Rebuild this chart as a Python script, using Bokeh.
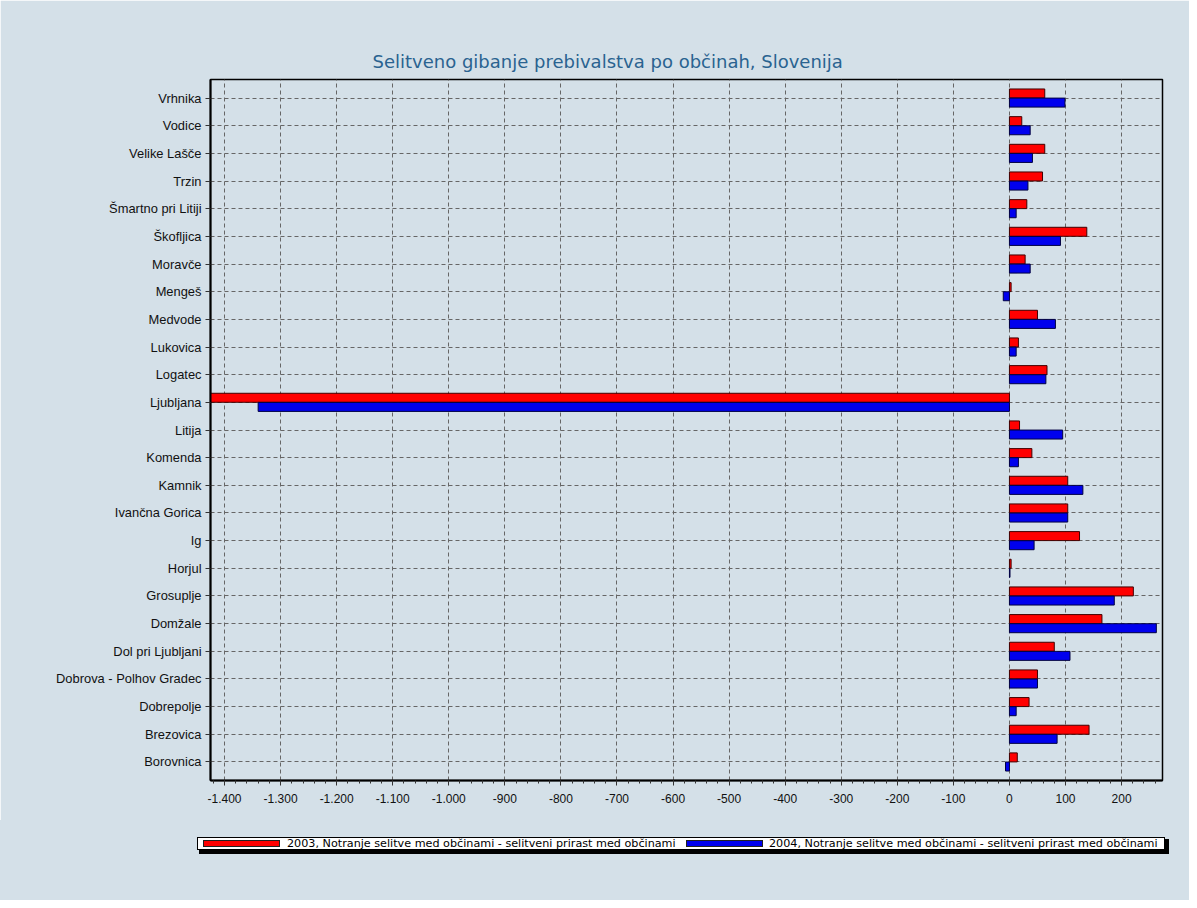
from bokeh.plotting import figure
from bokeh.models import ColumnDataSource, FactorRange, Range1d, FixedTicker, Div
from bokeh.layouts import column
from bokeh.transform import dodge
from bokeh.embed import file_html
from bokeh.resources import INLINE

# ---- data (bottom to top) ----
municipalities = [
    "Borovnica", "Brezovica", "Dobrepolje", "Dobrova - Polhov Gradec",
    "Dol pri Ljubljani", "Domžale", "Grosuplje", "Horjul", "Ig",
    "Ivančna Gorica", "Kamnik", "Komenda", "Litija", "Ljubljana", "Logatec",
    "Lukovica", "Medvode", "Mengeš", "Moravče", "Škofljica",
    "Šmartno pri Litiji", "Trzin", "Velike Lašče", "Vodice", "Vrhnika",
]
values_2003 = [14, 142, 35, 50, 80, 165, 221, 3, 125, 104, 104, 40, 18,
               -1425, 67, 16, 50, 3, 28, 138, 31, 59, 63, 22, 63]
values_2004 = [-7, 85, 12, 50, 108, 262, 187, 1, 44, 104, 131, 16, 95,
               -1340, 65, 12, 82, -11, 37, 91, 12, 33, 41, 37, 99]
series_labels = [
    "2003, Notranje selitve med občinami - selitveni prirast med občinami",
    "2004, Notranje selitve med občinami - selitveni prirast med občinami",
]
series_colors = ["#ff0000", "#0000ee"]
x_ticks = [-1400, -1300, -1200, -1100, -1000, -900, -800, -700, -600, -500,
           -400, -300, -200, -100, 0, 100, 200]
x_tick_labels = ["-1.400", "-1.300", "-1.200", "-1.100", "-1.000", "-900",
                 "-800", "-700", "-600", "-500", "-400", "-300", "-200",
                 "-100", "0", "100", "200"]
title_text = "Selitveno gibanje prebivalstva po občinah, Slovenija"

BG = "#d4e0e8"

src = ColumnDataSource(dict(cat=municipalities, v03=values_2003, v04=values_2004))

yr = FactorRange(factors=municipalities, range_padding=0.17,
                 range_padding_units="absolute")
p = figure(frame_width=952, frame_height=701, y_range=yr,
           x_range=Range1d(-1425, 273),
           output_backend="svg", toolbar_location=None,
           min_border_left=210, min_border_right=27, min_border_top=79,
           min_border_bottom=40)
p.background_fill_color = BG
p.border_fill_color = BG
p.outline_line_color = "black"
p.outline_line_width = 1.5

r1 = p.hbar(y=dodge("cat", 0.165, range=yr), right="v03", left=0, height=0.325,
            source=src, fill_color=series_colors[0], line_color="#400000",
            line_width=1)
r2 = p.hbar(y=dodge("cat", -0.165, range=yr), right="v04", left=0, height=0.325,
            source=src, fill_color=series_colors[1], line_color="#000040",
            line_width=1)

# axes
p.xaxis.ticker = FixedTicker(ticks=x_ticks,
                             minor_ticks=list(range(-1420, 280, 20)))
p.xaxis.major_label_overrides = {t: l for t, l in zip(x_ticks, x_tick_labels)}
for ax in (p.xaxis[0], p.yaxis[0]):
    ax.axis_line_color = "black"
    ax.axis_line_width = 2
    ax.major_tick_line_color = "#333333"
    ax.minor_tick_line_color = "#333333"
    ax.major_label_text_font = "Liberation Sans"
    ax.major_label_text_color = "#111111"
p.xaxis.major_label_text_font_size = "12px"
p.yaxis.major_label_text_font_size = "12.9px"
p.xaxis.major_tick_out = 5
p.xaxis.major_tick_in = 0
p.xaxis.minor_tick_out = 3
p.xaxis.minor_tick_in = 0
p.xaxis.major_label_standoff = 8
p.yaxis.major_tick_out = 5
p.yaxis.major_tick_in = 0
p.yaxis.major_label_standoff = 4

# grids
for g in (p.xgrid, p.ygrid):
    g.grid_line_color = "#666666"
    g.grid_line_dash = "4 3"
    g.grid_line_width = 1

# title
p.title.text = title_text
p.title.align = "left"
p.title.offset = 162
p.title.text_font = "DejaVu Sans"
p.title.text_font_size = "18px"
p.title.text_font_style = "normal"
p.title.text_color = "#2a6390"
p.title.standoff = 16

# ---- legend strip (HTML, below the chart) ----
sw_left = [203, 686]
txt_left = [287, 769]
parts = [
    f'<div style="position:relative;width:1189px;height:80px;background:{BG};">',
    '<div style="position:absolute;left:199px;top:19px;width:970px;height:15px;'
    'background:black;"></div>',
    '<div style="position:absolute;left:197px;top:17px;width:968px;height:13px;'
    'background:white;border:1px solid black;"></div>',
]
for sl, tl, col, lab in zip(sw_left, txt_left, series_colors, series_labels):
    parts.append(
        f'<div style="position:absolute;left:{sl}px;top:20px;width:77px;height:7px;'
        f'background:{col};border:1px solid #222;"></div>')
    parts.append(
        f'<span style="position:absolute;left:{tl}px;top:17px;'
        "font-family:'DejaVu Sans';font-size:11.2px;line-height:14px;"
        f'white-space:nowrap;color:black;">{lab}</span>')
parts.append('</div>')
leg = Div(text="".join(parts), width=1189, height=80, margin=(0, 0, 0, 0),
          styles={"background-color": BG})

layout = column(p, leg, spacing=0)
open("out.html", "w").write(file_html(layout, INLINE))
